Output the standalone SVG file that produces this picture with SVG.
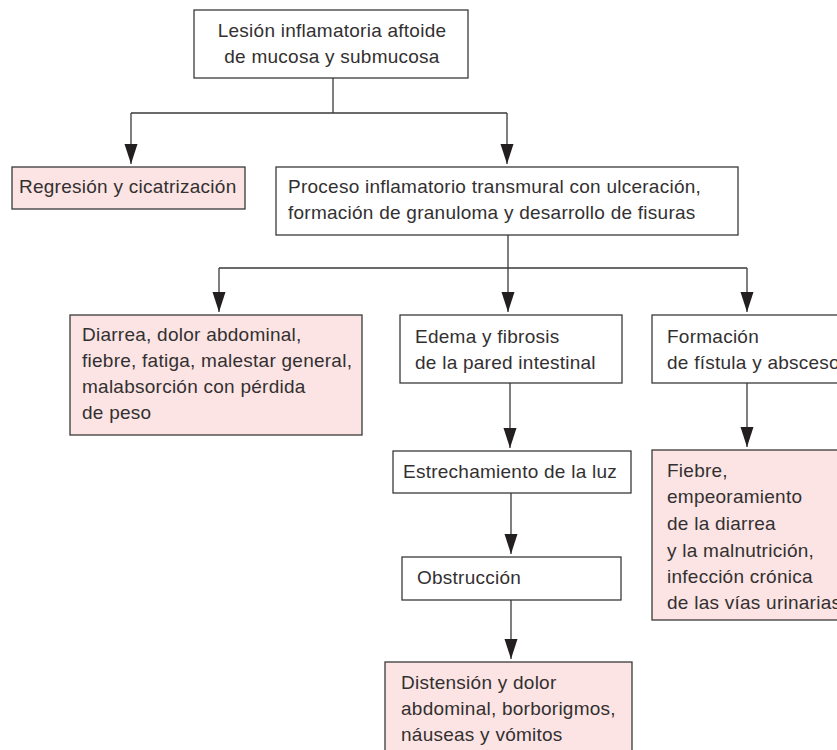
<svg xmlns="http://www.w3.org/2000/svg" width="837" height="750" viewBox="0 0 837 750">
<defs>
<marker id="ah" markerUnits="userSpaceOnUse" markerWidth="20" markerHeight="14" refX="20" refY="6.5" orient="auto">
<path d="M0,0 L20,6.5 L0,13 z" fill="#231f20"/>
</marker>
<style>
.box{fill:#ffffff;stroke:#3a3a3a;stroke-width:1.3}
.pink{fill:#fbe4e3;stroke:#3a3a3a;stroke-width:1.3}
.t{font-family:"Liberation Sans",Arial,sans-serif;font-size:19px;letter-spacing:0.25px;fill:#333031}
.c{text-anchor:middle}
.ln{fill:none;stroke:#3a3a3a;stroke-width:1.3}
.ar{fill:none;stroke:#3a3a3a;stroke-width:1.3;marker-end:url(#ah)}
</style>
</defs>
<rect width="837" height="750" fill="#ffffff"/>
<g id="connectors">
<path class="ln" d="M333,78 V113 M131,113 H507"/>
<path class="ar" d="M131,113 V164"/>
<path class="ar" d="M507,113 V164"/>
<path class="ln" d="M508,235 V268 M219,268 H747"/>
<path class="ar" d="M219,268 V312"/>
<path class="ar" d="M508,268 V312"/>
<path class="ar" d="M747,268 V312"/>
<path class="ar" d="M510,383 V448"/>
<path class="ar" d="M747,383 V447"/>
<path class="ar" d="M511,493 V554"/>
<path class="ar" d="M511,600 V659"/>
</g>
<g id="n1">
<rect class="box" x="194" y="10" width="274" height="68"/>
<text class="t c" x="332" y="37">Lesión inflamatoria aftoide</text>
<text class="t c" x="332" y="63">de mucosa y submucosa</text>
</g>
<g id="n2">
<rect class="pink" x="12" y="167" width="233" height="42"/>
<text class="t" x="19" y="193">Regresión y cicatrización</text>
</g>
<g id="n3">
<rect class="box" x="276" y="167" width="462" height="68"/>
<text class="t" x="288" y="193">Proceso inflamatorio transmural con ulceración,</text>
<text class="t" x="288" y="219">formación de granuloma y desarrollo de fisuras</text>
</g>
<g id="n4">
<rect class="pink" x="70" y="315" width="292" height="120"/>
<text class="t" x="82" y="341">Diarrea, dolor abdominal,</text>
<text class="t" x="82" y="367">fiebre, fatiga, malestar general,</text>
<text class="t" x="82" y="393">malabsorción con pérdida</text>
<text class="t" x="82" y="419">de peso</text>
</g>
<g id="n5">
<rect class="box" x="400" y="315" width="222" height="68"/>
<text class="t" x="415" y="343">Edema y fibrosis</text>
<text class="t" x="415" y="369">de la pared intestinal</text>
</g>
<g id="n6">
<rect class="box" x="652" y="315" width="200" height="68"/>
<text class="t" x="667" y="343">Formación</text>
<text class="t" x="667" y="369">de fístula y absceso</text>
</g>
<g id="n7">
<rect class="box" x="393" y="451" width="238" height="42"/>
<text class="t" x="403" y="478">Estrechamiento de la luz</text>
</g>
<g id="n8">
<rect class="pink" x="652" y="450" width="200" height="170"/>
<text class="t" x="667" y="477">Fiebre,</text>
<text class="t" x="667" y="503">empeoramiento</text>
<text class="t" x="667" y="530">de la diarrea</text>
<text class="t" x="667" y="557">y la malnutrición,</text>
<text class="t" x="667" y="583">infección crónica</text>
<text class="t" x="667" y="609">de las vías urinarias</text>
</g>
<g id="n9">
<rect class="box" x="402" y="557" width="219" height="43"/>
<text class="t" x="417" y="584">Obstrucción</text>
</g>
<g id="n10">
<rect class="pink" x="385" y="662" width="247" height="110"/>
<text class="t" x="401" y="689">Distensión y dolor</text>
<text class="t" x="401" y="715">abdominal, borborigmos,</text>
<text class="t" x="401" y="741">náuseas y vómitos</text>
</g>
</svg>
